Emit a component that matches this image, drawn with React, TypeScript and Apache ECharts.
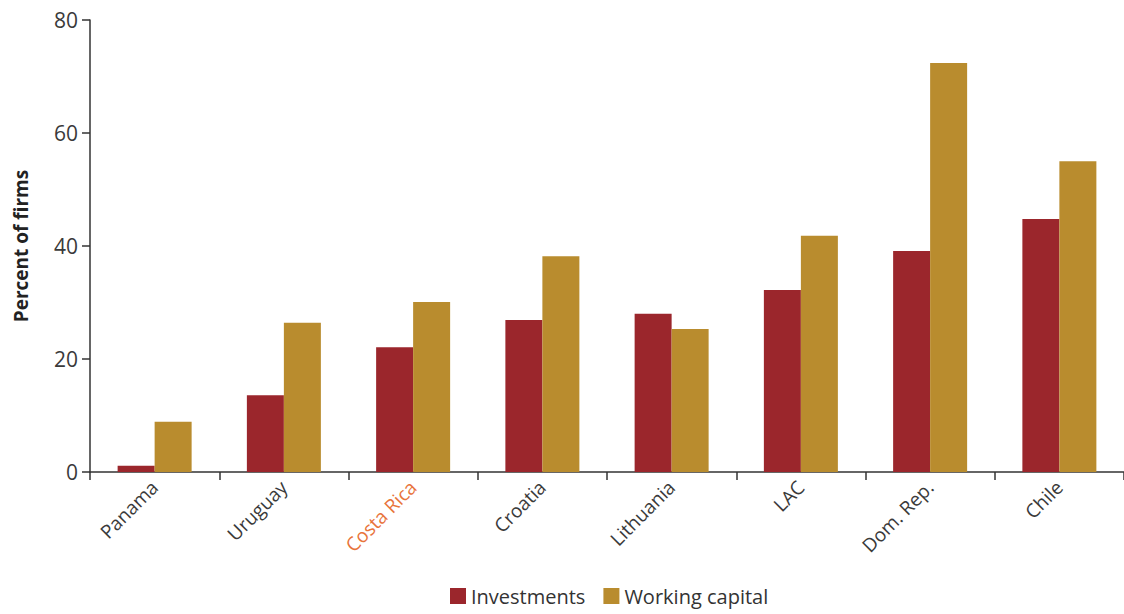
import React, { useEffect, useRef } from "react";
import * as echarts from "echarts";

const categories = ["Panama", "Uruguay", "Costa Rica", "Croatia", "Lithuania", "LAC", "Dom. Rep.", "Chile"];
const investments = [1.1, 13.6, 22.1, 26.9, 28.0, 32.2, 39.1, 44.8];
const workingCapital = [8.9, 26.4, 30.1, 38.2, 25.3, 41.8, 72.4, 55.0];
const yTicks = [0, 20, 40, 60, 80];
const highlight = "Costa Rica";

export default function App() {
  const ref = useRef<HTMLDivElement>(null);
  useEffect(() => {
    if (!ref.current) return;
    const chart = echarts.init(ref.current, undefined, { renderer: "svg" });
    chart.setOption({
      animation: false,
      grid: { left: 90, right: 0, top: 20, bottom: 142, containLabel: false, outerBoundsMode: "none" },
      legend: {
        bottom: 3,
        left: 445,
        itemWidth: 16,
        itemHeight: 16,
        itemGap: 18,
        icon: "rect",
        textStyle: { fontFamily: "Open Sans", fontSize: 20, color: "#333" },
        data: ["Investments", "Working capital"],
      },
      xAxis: {
        type: "category",
        data: categories,
        axisLine: { lineStyle: { color: "#333", width: 1.5 } },
        axisTick: { show: true, length: 8, alignWithLabel: false, lineStyle: { color: "#333", width: 1.5 } },
        axisLabel: {
          rotate: 45,
          interval: 0,
          margin: 12,
          fontFamily: "Open Sans",
          fontSize: 19,
          color: "#3a3a3a",
          padding: [0, 0, 0, 0],
          rich: { hl: { color: "#E8743B", fontFamily: "Open Sans", fontSize: 19 } },
          formatter: (v: string) => (v === highlight ? `{hl|${v}}` : v),
        },
      },
      yAxis: {
        type: "value",
        min: yTicks[0],
        max: yTicks[yTicks.length - 1],
        interval: 20,
        name: "Percent of firms",
        nameLocation: "middle",
        nameGap: 60,
        nameTextStyle: { fontFamily: "Open Sans", fontWeight: "bold", fontSize: 19, color: "#222" },
        axisLine: { show: true, lineStyle: { color: "#333", width: 1.5 } },
        axisTick: { show: true, length: 8, lineStyle: { color: "#333", width: 1.5 } },
        splitLine: { show: false },
        axisLabel: { fontFamily: "Open Sans", fontSize: 21, color: "#3a3a3a", margin: 12 },
      },
      series: [
        {
          name: "Investments",
          type: "bar",
          data: investments,
          barWidth: 37,
          barGap: "0%",
          itemStyle: { color: "#9B262C" },
        },
        {
          name: "Working capital",
          type: "bar",
          data: workingCapital,
          barWidth: 37,
          barGap: "0%",
          itemStyle: { color: "#B98C2E" },
        },
      ],
    });
    return () => chart.dispose();
  }, []);
  return <div ref={ref} style={{ width: 1124, height: 614, position: "absolute", left: 0, top: 0 }} />;
}
